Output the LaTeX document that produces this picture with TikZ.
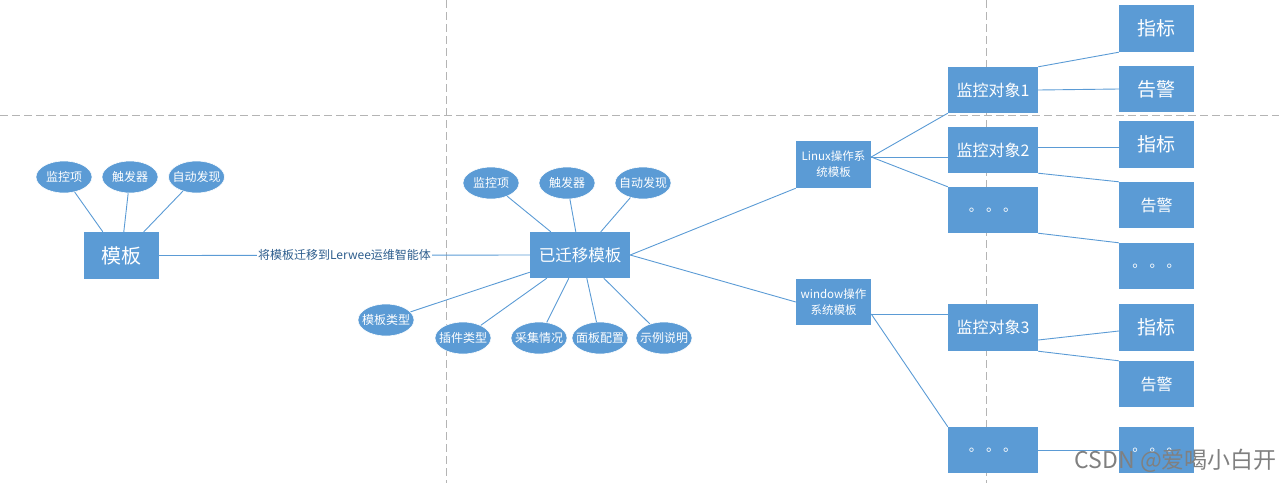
\documentclass[tikz,border=0pt]{standalone}
\usepackage{fontspec}
\setmainfont{Noto Sans CJK SC}
\usetikzlibrary{shapes.geometric,calc}
\definecolor{boxblue}{HTML}{5B9BD5}
\definecolor{lblblue}{HTML}{2E5E8E}
\definecolor{dashgray}{HTML}{B4B4B4}
\tikzset{
  box/.style={rectangle, fill=boxblue, text=white, inner sep=0pt, minimum width=75pt, minimum height=46pt, align=center},
  obj/.style={box, minimum width=90pt},
  oval/.style={ellipse, fill=boxblue, draw=white, line width=0.6pt, text=white, inner xsep=-5pt, inner ysep=0pt, minimum width=56pt, minimum height=32pt, font=\fontsize{12}{14}\selectfont},
  conn/.style={draw=boxblue, line width=0.9pt},
  guide/.style={draw=dashgray, line width=0.9pt, dash pattern=on 8pt off 4pt},
}
\begin{document}
\begin{tikzpicture}[x=1pt,y=-1pt]
\useasboundingbox (0,0) rectangle (1279,483);
% guide lines
\draw[guide] (0,115) -- (1279,115);
\draw[guide] (446,0) -- (446,483);
\draw[guide] (986,0) -- (986,483);

% left part
\node[box, minimum height=47pt, font=\fontsize{20}{24}\selectfont] (mb) at (121.5,255.5) {模板};
\node[oval] (e1) at (64,177) {监控项};
\node[oval] (e2) at (130,177) {触发器};
\node[oval] (e3) at (196.5,177) {自动发现};

% middle
\node[box, minimum width=100pt, font=\fontsize{16.5}{20}\selectfont] (ym) at (580,255) {已迁移模板};
\node[oval] (t1) at (491,183) {监控项};
\node[oval] (t2) at (567,183) {触发器};
\node[oval] (t3) at (643,183) {自动发现};
\node[oval] (b1) at (386,320) {模板类型};
\node[oval] (b2) at (463,338) {插件类型};
\node[oval] (b3) at (539,338) {采集情况};
\node[oval] (b4) at (600,338) {面板配置};
\node[oval] (b5) at (664,338) {示例说明};

% os templates
\node[box, minimum height=47pt, font=\fontsize{11.5}{16}\selectfont] (lx) at (833.5,164.5) {Linux操作系\\统模板};
\node[box, font=\fontsize{11.5}{16}\selectfont] (wn) at (833.5,302) {window操作\\系统模板};

% monitored objects
\node[obj, font=\fontsize{16}{20}\selectfont] (o1) at (993,90) {监控对象1};
\node[obj, font=\fontsize{16}{20}\selectfont] (o2) at (993,150) {监控对象2};
\node[obj, font=\fontsize{14}{20}\selectfont] (od1) at (993,210) {。 。 。};
\node[obj, minimum height=47pt, font=\fontsize{16}{20}\selectfont] (o3) at (993,327.5) {监控对象3};
\node[obj, font=\fontsize{14}{20}\selectfont] (od2) at (993,450) {。 。 。};

% leaves
\node[box, minimum height=47pt, font=\fontsize{19}{22}\selectfont] (r1) at (1156.5,28.5) {指标};
\node[box, font=\fontsize{19}{22}\selectfont] (r2) at (1156.5,89) {告警};
\node[box, minimum height=47pt, font=\fontsize{19}{22}\selectfont] (r3) at (1156.5,144.5) {指标};
\node[box, font=\fontsize{16}{20}\selectfont] (r4) at (1156.5,205) {告警};
\node[box, font=\fontsize{14}{20}\selectfont] (r5) at (1156.5,266) {。 。 。};
\node[box, minimum height=47pt, font=\fontsize{19}{22}\selectfont] (r6) at (1156.5,327.5) {指标};
\node[box, font=\fontsize{16}{20}\selectfont] (r7) at (1156.5,384) {告警};
\node[box, font=\fontsize{14}{20}\selectfont] (r8) at (1156.5,450) {。 。 。};

% connectors left
\draw[conn] (e1) -- ($(mb.north west)+(19,0)$);
\draw[conn] (e2) -- ($(mb.north west)+(40,0)$);
\draw[conn] (e3) -- ($(mb.north west)+(60,0)$);
\draw[conn] (mb.east) -- node[fill=white, inner sep=1pt, text=lblblue, font=\fontsize{12}{15}\selectfont] (lbl) {将模板迁移到Lerwee运维智能体} (ym.west);

% connectors middle
\draw[conn] (t1) -- ($(ym.north west)+(21,0)$);
\draw[conn] (t2) -- ($(ym.north west)+(46,0)$);
\draw[conn] (t3) -- ($(ym.north west)+(71,0)$);
\draw[conn] (b1) -- ($(ym.south west)+(0,-6)$);
\draw[conn] (b2) -- ($(ym.south west)+(17,0)$);
\draw[conn] (b3) -- ($(ym.south west)+(39,0)$);
\draw[conn] (b4) -- ($(ym.south west)+(57,0)$);
\draw[conn] (b5) -- ($(ym.south west)+(74,0)$);
\draw[conn] (ym.east) -- (lx.south west);
\draw[conn] (ym.east) -- (wn.west);

% connectors os
\coordinate (lxs) at ($(lx.east)+(0,-7.5)$);
\draw[conn] (lxs) -- (o1.south west);
\draw[conn] (lxs) -- ($(o2.west)+(0,7)$);
\draw[conn] (lxs) -- (od1.north west);
\coordinate (wns) at ($(wn.east)+(0,12)$);
\draw[conn] (wns) -- ($(o3.west)+(0,-13.5)$);
\draw[conn] (wns) -- (od2.north west);

% connectors objects
\draw[conn] (o1.north east) -- (r1.south west);
\draw[conn] (o1.east) -- (r2.west);
\draw[conn] ($(o2.east)+(0,-3)$) -- ($(r3.west)+(0,2.5)$);
\draw[conn] (o2.south east) -- (r4.north west);
\draw[conn] (od1.south east) -- (r5.north west);
\draw[conn] ($(o3.east)+(0,12.5)$) -- ($(r6.west)+(0,3.5)$);
\draw[conn] (o3.south east) -- (r7.north west);
\draw[conn] (od2.east) -- (r8.west);

% watermark
\node[anchor=east, text=black!50, font=\fontsize{23}{26}\selectfont, inner sep=0pt] (wm) at (1277,461) {CSDN @爱喝小白开};
\end{tikzpicture}
\end{document}
